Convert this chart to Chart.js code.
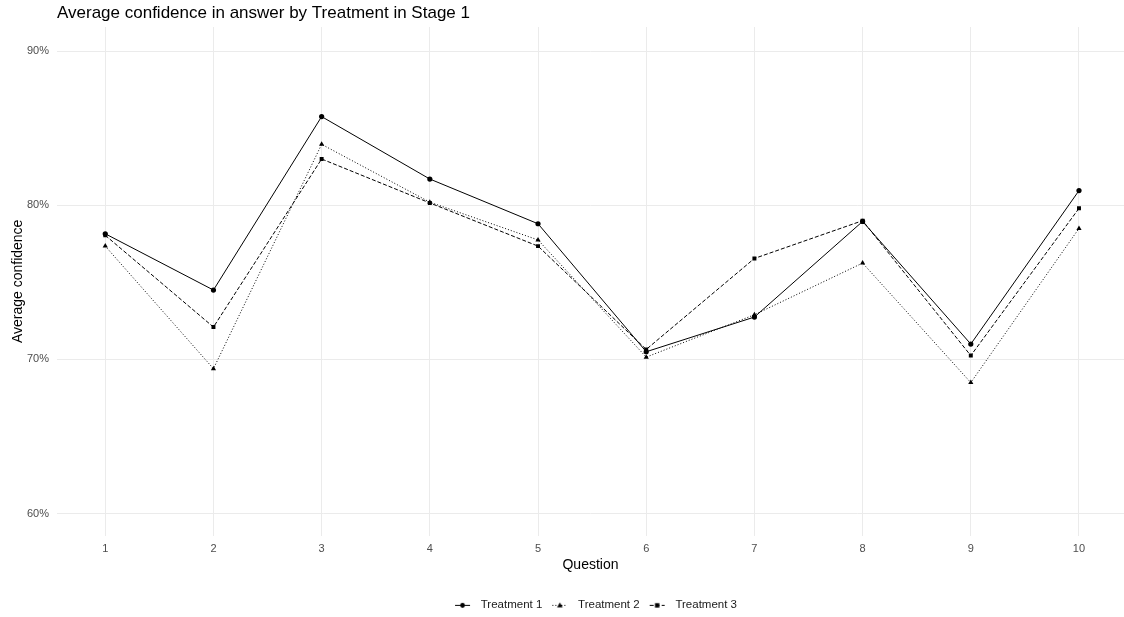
<!DOCTYPE html>
<html>
<head>
<meta charset="utf-8">
<script src="https://cdn.jsdelivr.net/npm/chart.js@4/dist/chart.umd.min.js"></script>
<style>
    html, body { margin: 0; padding: 0; background: #fff; }
    #wrap { width: 1124px; height: 617px; }
</style>
</head>
<body>
<div id="wrap"><canvas id="confChart"></canvas></div>
<script>
const questions = [1, 2, 3, 4, 5, 6, 7, 8, 9, 10];
const treatment1 = [78.15, 74.5, 85.75, 81.7, 78.8, 70.5, 72.75, 78.95, 71.0, 80.95];
const treatment2 = [77.35, 69.4, 83.95, 80.2, 77.75, 70.15, 72.9, 76.25, 68.5, 78.5];
const treatment3 = [78.05, 72.1, 83.0, 80.15, 77.35, 70.65, 76.55, 79.0, 70.25, 79.8];
const yTicks = [60, 70, 80, 90];

const FONT = "'Liberation Sans', Arial, sans-serif";

function toPoints(values) {
    return questions.map((q, i) => ({ x: q, y: values[i] }));
}

// little legend key: line sample with the marker in the middle
function legendKey(dash, marker) {
    const c = document.createElement('canvas');
    c.width = 26;
    c.height = 10;
    const g = c.getContext('2d');
    g.strokeStyle = '#000';
    g.fillStyle = '#000';
    g.lineWidth = 1;
    g.setLineDash(dash);
    g.beginPath();
    g.moveTo(6, 5.5);
    g.lineTo(21, 5.5);
    g.stroke();
    g.setLineDash([]);
    g.beginPath();
    if (marker === 'circle') {
        g.arc(13.5, 5.5, 2.4, 0, Math.PI * 2);
    } else if (marker === 'triangle') {
        g.moveTo(13.5, 2.5);
        g.lineTo(16.3, 7.6);
        g.lineTo(10.7, 7.6);
        g.closePath();
    } else {
        g.rect(11.3, 3.3, 4.4, 4.4);
    }
    g.fill();
    return c;
}

const keys = [
    legendKey([], 'circle'),
    legendKey([1, 2], 'triangle'),
    legendKey([4, 2], 'rect')
];

const titlePlugin = {
    id: 'plotTitle',
    afterLayout(chart) {
        // ggplot puts the legend a bit right of the canvas middle and lower
        chart.legend.left += 31;
        chart.legend.right += 31;
        chart.legend.top += 6;
        chart.legend.bottom += 6;
    },
    afterDraw(chart) {
        const ctx = chart.ctx;
        ctx.save();
        ctx.font = '17px ' + FONT;
        ctx.fillStyle = '#000';
        ctx.textBaseline = 'middle';
        ctx.fillText('Average confidence in answer by Treatment in Stage 1', 57, 13);
        ctx.restore();
    }
};

function series(label, values, dash, style, radius) {
    return {
        label: label,
        data: toPoints(values),
        borderColor: '#000',
        backgroundColor: '#000',
        borderWidth: 1,
        borderDash: dash,
        pointStyle: style,
        pointRadius: radius,
        pointBorderWidth: 0,
        pointHoverRadius: radius,
        tension: 0,
        fill: false
    };
}

const ctx = document.getElementById('confChart').getContext('2d');
const chart = new Chart(ctx, {
    type: 'line',
    data: {
        datasets: [
            series('Treatment 1', treatment1, [], 'circle', 2.6),
            series('Treatment 2', treatment2, [1, 2], 'triangle', 3),
            series('Treatment 3', treatment3, [4, 2], 'rect', 2.8)
        ]
    },
    plugins: [titlePlugin],
    options: {
        responsive: true,
        maintainAspectRatio: false,
        animation: false,
        layout: { autoPadding: false, padding: { top: 27, right: 0, bottom: 2.4, left: 0 } },
        plugins: {
            title: { display: false },
            tooltip: { enabled: false },
            legend: {
                position: 'bottom',
                labels: {
                    usePointStyle: true,
                    pointStyleWidth: 26,
                    boxHeight: 10,
                    padding: 4,
                    color: '#1a1a1a',
                    font: { family: FONT, size: 11.5 },
                    generateLabels: function(chart) {
                        const items = Chart.defaults.plugins.legend.labels.generateLabels(chart);
                        items.forEach((item, i) => { item.pointStyle = keys[i]; });
                        return items;
                    }
                }
            }
        },
        scales: {
            x: {
                type: 'linear',
                min: 0.554,
                max: 10.416,
                afterBuildTicks: (scale) => { scale.ticks = questions.map(v => ({ value: v })); },
                afterFit: (scale) => { scale.height = 53.4; },
                grid: { color: '#ebebeb', lineWidth: 1, drawTicks: false },
                border: { display: false },
                ticks: {
                    color: '#4d4d4d',
                    padding: 7,
                    font: { family: FONT, size: 11 },
                    callback: (v) => v
                },
                title: {
                    display: true,
                    text: 'Question',
                    color: '#000',
                    font: { family: FONT, size: 14 },
                    padding: { top: 0, bottom: 16 }
                }
            },
            y: {
                min: 58.57,
                max: 91.56,
                afterBuildTicks: (scale) => { scale.ticks = yTicks.map(v => ({ value: v })); },
                afterFit: (scale) => { scale.width = 57; },
                grid: { color: '#ebebeb', lineWidth: 1, drawTicks: false },
                border: { display: false },
                ticks: {
                    color: '#4d4d4d',
                    padding: 8,
                    font: { family: FONT, size: 11 },
                    callback: (v) => v + '%'
                },
                title: {
                    display: true,
                    text: 'Average confidence',
                    color: '#000',
                    font: { family: FONT, size: 14 },
                    padding: { top: 10, bottom: 0 }
                }
            }
        }
    }
});
</script>
</body>
</html>
